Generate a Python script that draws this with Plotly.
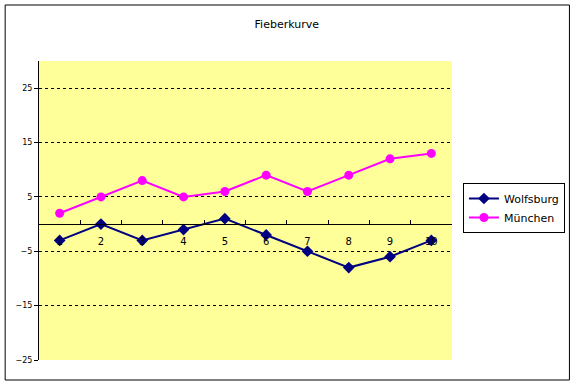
import plotly.graph_objects as go

categories = ["1", "2", "3", "4", "5", "6", "7", "8", "9", "10"]
wolfsburg = [-3, 0, -3, -1, 1, -2, -5, -8, -6, -3]
muenchen = [2, 5, 8, 5, 6, 9, 6, 9, 12, 13]
y_ticks = [-25, -15, -5, 5, 15, 25]
grid_vals = [-15, -5, 5, 15, 25]
y_range = [-25, 30]

W, H = 577, 385
ml, mr, mt, mb = 39, 123, 61, 25
pw, ph = W - ml - mr, H - mt - mb

fig = go.Figure()
fig.add_trace(go.Scatter(
    x=categories, y=wolfsburg, name="Wolfsburg", mode="lines+markers",
    line=dict(color="#000080", width=2),
    marker=dict(symbol="diamond", size=9, color="#000080"),
))
fig.add_trace(go.Scatter(
    x=categories, y=muenchen, name="München", mode="lines+markers",
    line=dict(color="#FF00FF", width=2),
    marker=dict(symbol="circle", size=9, color="#FF00FF"),
))

zero_pos = (0 - y_range[0]) / (y_range[1] - y_range[0])

fig.update_layout(
    width=W, height=H,
    margin=dict(l=ml, r=mr, t=mt, b=mb),
    paper_bgcolor="white", plot_bgcolor="#FFFF99",
    font=dict(family="DejaVu Sans", size=8, color="black"),
    title=dict(text="Fieberkurve", x=(288 - ml) / pw, xref="paper", xanchor="center",
               y=1 - 24 / H, yanchor="middle", font=dict(size=11)),
    xaxis=dict(type="category", anchor="free", position=zero_pos,
               showline=True, linecolor="black", linewidth=1,
               ticks="inside", ticklen=4, tickcolor="black", tickson="boundaries",
               ticklabelstandoff=8,
               showgrid=False, zeroline=False, range=[-0.5, 9.5],
               tickfont=dict(size=10)),
    yaxis=dict(range=y_range, tickvals=y_ticks, showline=True, linecolor="black",
               linewidth=1, ticks="outside", ticklen=4, tickcolor="black",
               showgrid=False, zeroline=False, tickfont=dict(size=8)),
    yaxis2=dict(range=y_range, overlaying="y", tickvals=grid_vals, showticklabels=False,
                showgrid=True, gridcolor="black", gridwidth=1, griddash="3px,3px",
                zeroline=False, showline=False),
    legend=dict(x=(465 - ml) / pw, y=(H - mb - 208) / ph, xanchor="left", yanchor="middle",
                bordercolor="black", borderwidth=1, bgcolor="white",
                font=dict(size=11), tracegroupgap=0),
    showlegend=True,
    shapes=[dict(type="rect", xref="paper", yref="paper",
                 x0=(5 - ml) / pw, x1=(572 - ml) / pw,
                 y0=(H - mb - 380) / ph, y1=(H - mb - 5) / ph,
                 line=dict(color="black", width=1), layer="below")],
)
# dummy trace to activate yaxis2 grid
fig.add_trace(go.Scatter(x=[categories[0]], y=[None], yaxis="y2", showlegend=False,
                         hoverinfo="skip"))
fig.write_html("out.html", config={"displayModeBar": False},
               post_script="document.body.style.margin='0';document.body.style.overflow='hidden';")
